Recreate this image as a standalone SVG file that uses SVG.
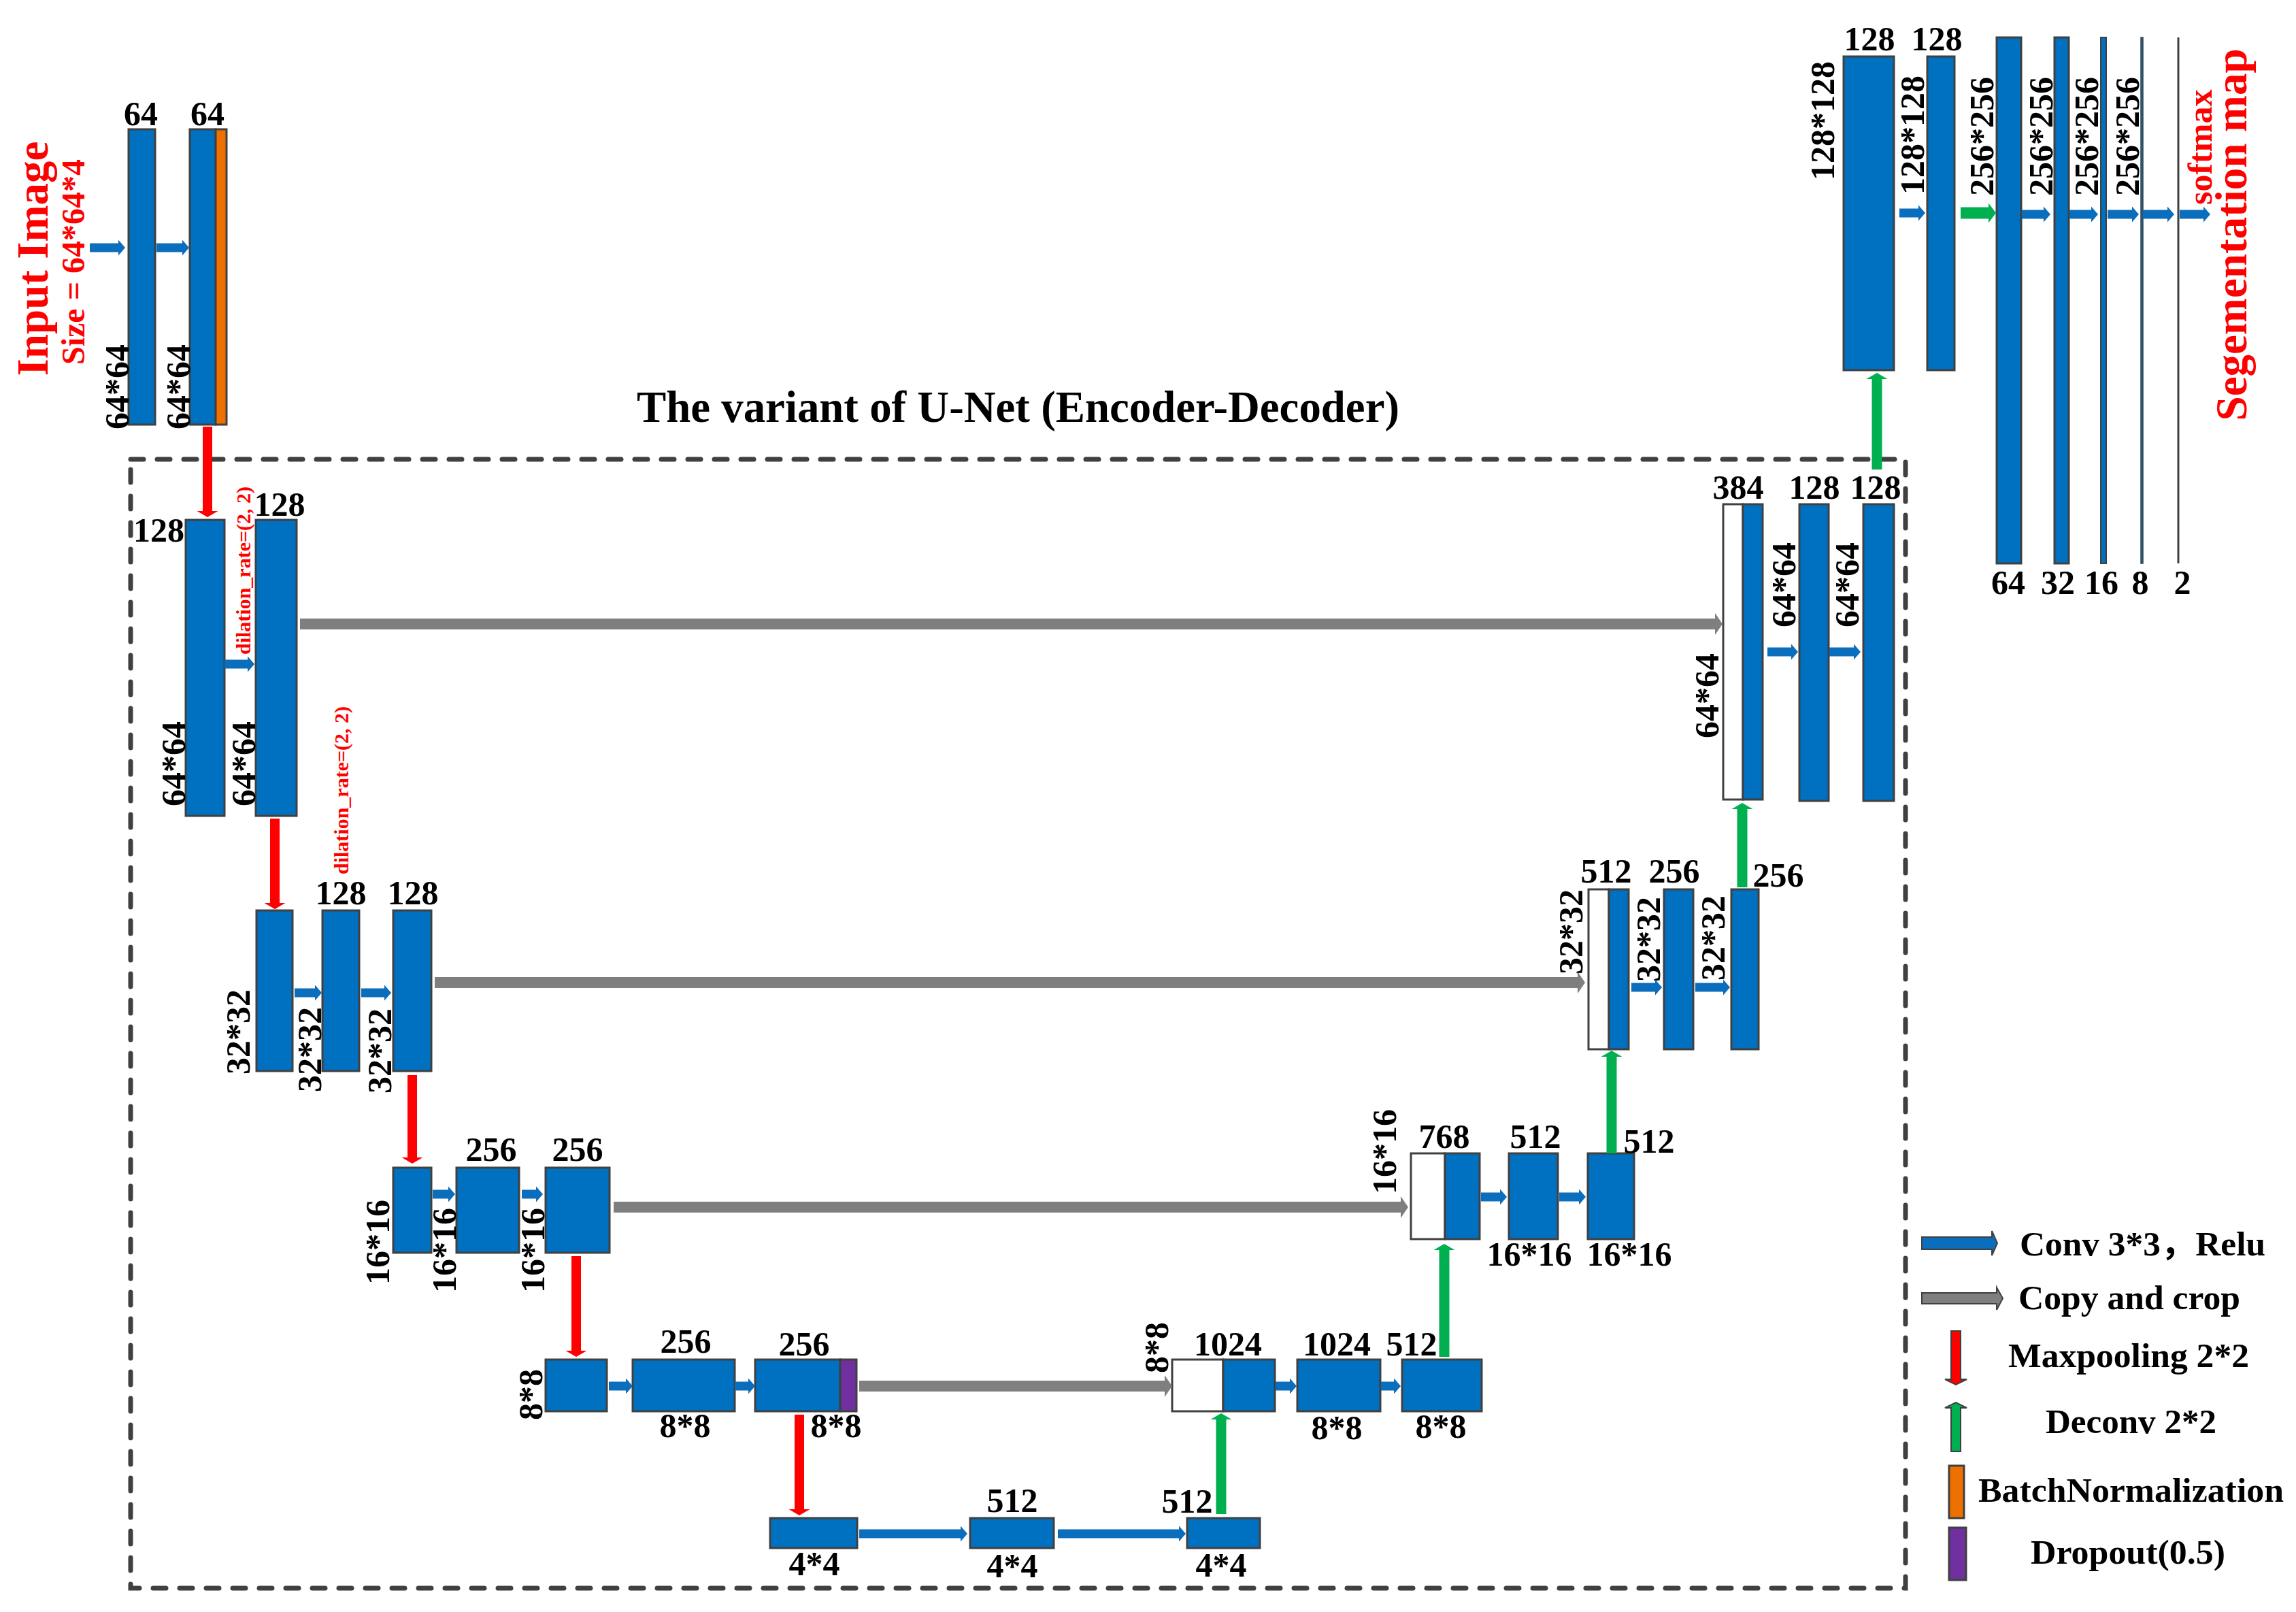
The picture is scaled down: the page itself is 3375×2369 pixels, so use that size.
<svg xmlns="http://www.w3.org/2000/svg" width="3375" height="2369" viewBox="0 0 3375 2369">
<style>
.blk{fill:#0070C0;stroke:#404040;stroke-width:3}
.wht{fill:#FFFFFF;stroke:#404040;stroke-width:3}
.bn{fill:#ED7000;stroke:#404040;stroke-width:3}
.dp{fill:#7030A0;stroke:#404040;stroke-width:3}
.ab{fill:#0A6EBD}
.ag{fill:#7F7F7F}
.ar{fill:#FF0000}
.agr{fill:#00B050}
.lbl{font-family:"Liberation Serif","Times New Roman",serif;font-weight:bold;font-size:50px;fill:#000}
.c{text-anchor:middle}
.red{fill:#FF0000}
.frame{fill:none;stroke:#404040;stroke-width:7;stroke-dasharray:19 20;stroke-linecap:round}
.leg{stroke:#404040;stroke-width:2}
</style>
<rect x="0" y="0" width="3375" height="2369" fill="#FFFFFF"/>

<g id="frame">
<rect class="frame" x="192" y="675" width="2609" height="1659"/>
<text class="lbl" x="936" y="620" style="font-size:65px" textLength="1121" lengthAdjust="spacingAndGlyphs">The variant of U-Net (Encoder-Decoder)</text>
</g>

<g id="input">
<text class="lbl c red" style="font-size:65px" transform="translate(70,380) rotate(-90)">Input Image</text>
<text class="lbl c red" style="font-size:48px" transform="translate(124,385) rotate(-90)">Size = 64*64*4</text>
</g>

<g id="A1"><rect class="blk" x="189" y="190" width="39" height="434"/>
<text class="lbl c" x="207" y="184">64</text>
<text class="lbl" transform="translate(189,631) rotate(-90)">64*64</text></g>
<g id="A2"><rect class="blk" x="279" y="190" width="38" height="434"/><rect class="bn" x="317" y="190" width="16" height="434"/>
<text class="lbl c" x="305" y="184">64</text>
<text class="lbl" transform="translate(279,631) rotate(-90)">64*64</text></g>

<g id="B1"><rect class="blk" x="273" y="764" width="57" height="435"/>
<text class="lbl" x="271" y="796" text-anchor="end">128</text>
<text class="lbl" transform="translate(272,1185) rotate(-90)">64*64</text></g>
<g id="B2"><rect class="blk" x="376" y="764" width="60" height="435"/>
<text class="lbl c" x="411" y="758">128</text>
<text class="lbl" transform="translate(375,1185) rotate(-90)">64*64</text></g>
<g id="dilation">
<text class="lbl red" style="font-size:30px" transform="translate(368,962) rotate(-90)">dilation_rate=(2, 2)</text>
<text class="lbl red" style="font-size:30px" transform="translate(512,1285) rotate(-90)">dilation_rate=(2, 2)</text>
</g>

<g id="C1"><rect class="blk" x="377" y="1338" width="53" height="236"/>
<text class="lbl" transform="translate(367,1579) rotate(-90)">32*32</text></g>
<g id="C2"><rect class="blk" x="474" y="1338" width="54" height="236"/>
<text class="lbl c" x="501" y="1329">128</text>
<text class="lbl" transform="translate(472,1605) rotate(-90)">32*32</text></g>
<g id="C3"><rect class="blk" x="578" y="1338" width="56" height="236"/>
<text class="lbl c" x="607" y="1329">128</text>
<text class="lbl" transform="translate(575,1607) rotate(-90)">32*32</text></g>

<g id="D1"><rect class="blk" x="578" y="1716" width="56" height="125"/>
<text class="lbl" transform="translate(572,1888) rotate(-90)">16*16</text></g>
<g id="D2"><rect class="blk" x="671" y="1716" width="92" height="125"/>
<text class="lbl c" x="722" y="1706">256</text>
<text class="lbl" transform="translate(670,1900) rotate(-90)">16*16</text></g>
<g id="D3"><rect class="blk" x="802" y="1716" width="94" height="125"/>
<text class="lbl c" x="849" y="1706">256</text>
<text class="lbl" transform="translate(800,1900) rotate(-90)">16*16</text></g>

<g id="E1"><rect class="blk" x="802" y="1998" width="90" height="76"/>
<text class="lbl" transform="translate(797,2087) rotate(-90)">8*8</text></g>
<g id="E2"><rect class="blk" x="930" y="1998" width="150" height="76"/>
<text class="lbl c" x="1008" y="1988">256</text>
<text class="lbl c" x="1007" y="2112">8*8</text></g>
<g id="E3"><rect class="blk" x="1110" y="1998" width="125" height="76"/><rect class="dp" x="1235" y="1998" width="24" height="76"/>
<text class="lbl c" x="1182" y="1992">256</text>
<text class="lbl c" x="1229" y="2112">8*8</text></g>

<g id="F1"><rect class="blk" x="1132" y="2231" width="128" height="44"/>
<text class="lbl c" x="1197" y="2315">4*4</text></g>
<g id="F2"><rect class="blk" x="1426" y="2231" width="123" height="44"/>
<text class="lbl c" x="1488" y="2222">512</text>
<text class="lbl c" x="1488" y="2318">4*4</text></g>
<g id="F3"><rect class="blk" x="1745" y="2231" width="107" height="44"/>
<text class="lbl c" x="1745" y="2223">512</text>
<text class="lbl c" x="1795" y="2317">4*4</text></g>

<g id="G1"><rect class="wht" x="1723" y="1998" width="75" height="76"/><rect class="blk" x="1798" y="1998" width="76" height="76"/>
<text class="lbl c" x="1805" y="1992">1024</text>
<text class="lbl" transform="translate(1717,2018) rotate(-90)">8*8</text></g>
<g id="G2"><rect class="blk" x="1907" y="1998" width="122" height="76"/>
<text class="lbl c" x="1965" y="1992">1024</text>
<text class="lbl c" x="1965" y="2115">8*8</text></g>
<g id="G3"><rect class="blk" x="2061" y="1998" width="117" height="76"/>
<text class="lbl c" x="2075" y="1992">512</text>
<text class="lbl c" x="2118" y="2113">8*8</text></g>

<g id="H1"><rect class="wht" x="2074" y="1695" width="50" height="126"/><rect class="blk" x="2124" y="1695" width="51" height="126"/>
<text class="lbl c" x="2123" y="1687">768</text>
<text class="lbl" transform="translate(2052,1755) rotate(-90)">16*16</text></g>
<g id="H2"><rect class="blk" x="2218" y="1695" width="72" height="126"/>
<text class="lbl c" x="2257" y="1687">512</text>
<text class="lbl c" x="2248" y="1860">16*16</text></g>
<g id="H3"><rect class="blk" x="2334" y="1695" width="68" height="126"/>
<text class="lbl c" x="2424" y="1694">512</text>
<text class="lbl c" x="2395" y="1860">16*16</text></g>

<g id="I1"><rect class="wht" x="2335" y="1307" width="30" height="235"/><rect class="blk" x="2365" y="1307" width="29" height="235"/>
<text class="lbl c" x="2361" y="1297">512</text>
<text class="lbl" transform="translate(2326,1432) rotate(-90)">32*32</text></g>
<g id="I2"><rect class="blk" x="2446" y="1307" width="43" height="235"/>
<text class="lbl c" x="2461" y="1297">256</text>
<text class="lbl" transform="translate(2440,1443) rotate(-90)">32*32</text></g>
<g id="I3"><rect class="blk" x="2545" y="1307" width="40" height="235"/>
<text class="lbl c" x="2614" y="1303">256</text>
<text class="lbl" transform="translate(2535,1441) rotate(-90)">32*32</text></g>

<g id="J1"><rect class="wht" x="2533" y="741" width="29" height="434"/><rect class="blk" x="2562" y="741" width="29" height="434"/>
<text class="lbl c" x="2555" y="733">384</text>
<text class="lbl" transform="translate(2526,1085) rotate(-90)">64*64</text></g>
<g id="J2"><rect class="blk" x="2645" y="741" width="43" height="436"/>
<text class="lbl c" x="2667" y="733">128</text>
<text class="lbl" transform="translate(2639,922) rotate(-90)">64*64</text></g>
<g id="J3"><rect class="blk" x="2739" y="741" width="45" height="436"/>
<text class="lbl c" x="2757" y="733">128</text>
<text class="lbl" transform="translate(2732,922) rotate(-90)">64*64</text></g>

<g id="K1"><rect class="blk" x="2710" y="83" width="74" height="461"/>
<text class="lbl c" x="2748" y="74">128</text>
<text class="lbl" transform="translate(2696,265) rotate(-90)">128*128</text></g>
<g id="K2"><rect class="blk" x="2833" y="83" width="40" height="461"/>
<text class="lbl c" x="2847" y="74">128</text>
<text class="lbl" transform="translate(2828,286) rotate(-90)">128*128</text></g>

<g id="L1"><rect class="blk" x="2935" y="55" width="36" height="773"/>
<text class="lbl" transform="translate(2930,288) rotate(-90)">256*256</text>
<text class="lbl c" x="2952" y="873">64</text></g>
<g id="L2"><rect class="blk" x="3020" y="55" width="21" height="773"/>
<text class="lbl" transform="translate(3017,288) rotate(-90)">256*256</text>
<text class="lbl c" x="3025" y="873">32</text></g>
<g id="L3"><rect class="blk" x="3088" y="55" width="8" height="773" style="stroke-width:2"/>
<text class="lbl" transform="translate(3084,288) rotate(-90)">256*256</text>
<text class="lbl c" x="3089" y="873">16</text></g>
<g id="L4"><rect class="blk" x="3147" y="55" width="3" height="773" style="stroke-width:1.5"/>
<text class="lbl" transform="translate(3144,288) rotate(-90)">256*256</text>
<text class="lbl c" x="3146" y="873">8</text></g>
<g id="L5"><line x1="3202" y1="55" x2="3202" y2="828" stroke="#404040" stroke-width="3"/>
<text class="lbl c" x="3208" y="873">2</text></g>
<g id="output">
<text class="lbl red" style="font-size:50px" transform="translate(3251,301) rotate(-90)">softmax</text>
<text class="lbl c red" style="font-size:65px" transform="translate(3302,345) rotate(-90)">Segementation map</text>
</g>

<g id="connectors">
<polygon class="ab" points="132,357.5 174,357.5 174,352.5 184,364 174,375.5 174,370.5 132,370.5"/>
<polygon class="ab" points="230,357.5 268,357.5 268,352.5 278,364 268,375.5 268,370.5 230,370.5"/>
<polygon class="ab" points="330,969.5 364,969.5 364,964.5 374,976 364,987.5 364,982.5 330,982.5"/>
<polygon class="ab" points="433,1452.5 463,1452.5 463,1447.5 473,1459 463,1470.5 463,1465.5 433,1465.5"/>
<polygon class="ab" points="531,1452.5 565,1452.5 565,1447.5 575,1459 565,1470.5 565,1465.5 531,1465.5"/>
<polygon class="ab" points="636,1748.5 659,1748.5 659,1743.5 669,1755 659,1766.5 659,1761.5 636,1761.5"/>
<polygon class="ab" points="767,1748.5 788,1748.5 788,1743.5 798,1755 788,1766.5 788,1761.5 767,1761.5"/>
<polygon class="ab" points="895,2030.5 920,2030.5 920,2025.5 930,2037 920,2048.5 920,2043.5 895,2043.5"/>
<polygon class="ab" points="1080,2030.5 1100,2030.5 1100,2025.5 1110,2037 1100,2048.5 1100,2043.5 1080,2043.5"/>
<polygon class="ab" points="1263,2247.5 1412,2247.5 1412,2242.5 1422,2254 1412,2265.5 1412,2260.5 1263,2260.5"/>
<polygon class="ab" points="1555,2247.5 1733,2247.5 1733,2242.5 1743,2254 1733,2265.5 1733,2260.5 1555,2260.5"/>
<polygon class="ab" points="1875,2030.5 1896,2030.5 1896,2025.5 1906,2037 1896,2048.5 1896,2043.5 1875,2043.5"/>
<polygon class="ab" points="2030,2030.5 2049,2030.5 2049,2025.5 2059,2037 2049,2048.5 2049,2043.5 2030,2043.5"/>
<polygon class="ab" points="2177,1752.5 2205,1752.5 2205,1747.5 2215,1759 2205,1770.5 2205,1765.5 2177,1765.5"/>
<polygon class="ab" points="2292,1752.5 2321,1752.5 2321,1747.5 2331,1759 2321,1770.5 2321,1765.5 2292,1765.5"/>
<polygon class="ab" points="2398,1444.5 2433,1444.5 2433,1439.5 2443,1451 2433,1462.5 2433,1457.5 2398,1457.5"/>
<polygon class="ab" points="2492,1444.5 2533,1444.5 2533,1439.5 2543,1451 2533,1462.5 2533,1457.5 2492,1457.5"/>
<polygon class="ab" points="2598,951.5 2633,951.5 2633,946.5 2643,958 2633,969.5 2633,964.5 2598,964.5"/>
<polygon class="ab" points="2689,951.5 2725,951.5 2725,946.5 2735,958 2725,969.5 2725,964.5 2689,964.5"/>
<polygon class="ab" points="2792,306.5 2820,306.5 2820,301.5 2830,313 2820,324.5 2820,319.5 2792,319.5"/>
<polygon class="ab" points="2972,308.5 3004,308.5 3004,303.5 3014,315 3004,326.5 3004,321.5 2972,321.5"/>
<polygon class="ab" points="3042,308.5 3074,308.5 3074,303.5 3084,315 3074,326.5 3074,321.5 3042,321.5"/>
<polygon class="ab" points="3098,308.5 3134,308.5 3134,303.5 3144,315 3134,326.5 3134,321.5 3098,321.5"/>
<polygon class="ab" points="3150,308.5 3186,308.5 3186,303.5 3196,315 3186,326.5 3186,321.5 3150,321.5"/>
<polygon class="ab" points="3204,308.5 3239,308.5 3239,303.5 3249,315 3239,326.5 3239,321.5 3204,321.5"/>
<polygon class="ag" points="441,909 2521,909 2521,901 2532,917 2521,933 2521,925 441,925"/>
<polygon class="ag" points="639,1436 2319,1436 2319,1428 2330,1444 2319,1460 2319,1452 639,1452"/>
<polygon class="ag" points="902,1766 2059,1766 2059,1758 2070,1774 2059,1790 2059,1782 902,1782"/>
<polygon class="ag" points="1263,2029 1712,2029 1712,2021 1723,2037 1712,2053 1712,2045 1263,2045"/>
<polygon class="ar" points="298,627 312,627 312,751 320.5,751 305,760 289.5,751 298,751"/>
<polygon class="ar" points="397,1203 411,1203 411,1327 419.5,1327 404,1336 388.5,1327 397,1327"/>
<polygon class="ar" points="599,1580 613,1580 613,1701 621.5,1701 606,1710 590.5,1701 599,1701"/>
<polygon class="ar" points="840,1846 854,1846 854,1985 862.5,1985 847,1994 831.5,1985 840,1985"/>
<polygon class="ar" points="1168,2079 1182,2079 1182,2218 1190.5,2218 1175,2227 1159.5,2218 1168,2218"/>
<polygon class="agr" points="1787.5,2225 1802.5,2225 1802.5,2086 1810.5,2086 1795,2077 1779.5,2086 1787.5,2086"/>
<polygon class="agr" points="2115.5,1994 2130.5,1994 2130.5,1837 2138.5,1837 2123,1828 2107.5,1837 2115.5,1837"/>
<polygon class="agr" points="2361.5,1695 2376.5,1695 2376.5,1553 2384.5,1553 2369,1544 2353.5,1553 2361.5,1553"/>
<polygon class="agr" points="2553.5,1304 2568.5,1304 2568.5,1189 2576.5,1189 2561,1180 2545.5,1189 2553.5,1189"/>
<polygon class="agr" points="2751.5,690 2766.5,690 2766.5,557 2774.5,557 2759,548 2743.5,557 2751.5,557"/>
<polygon class="agr" points="2882,304.5 2923,304.5 2923,298.5 2934,313 2923,327.5 2923,321.5 2882,321.5"/>
</g>

<g id="legend">
<polygon class="ab leg" points="2825,1818 2928,1818 2928,1809 2936,1827 2928,1845 2928,1836 2825,1836"/>
<text class="lbl" x="2969" y="1845" textLength="361" lengthAdjust="spacingAndGlyphs" style="font-family:'Liberation Serif','Noto Sans CJK SC',serif">Conv 3*3，Relu</text>
<polygon class="ag leg" points="2825,1900 2935,1900 2935,1892 2944,1908 2935,1925 2935,1916 2825,1916"/>
<text class="lbl" x="2967" y="1924" textLength="326" lengthAdjust="spacingAndGlyphs">Copy and crop</text>
<polygon class="ar leg" points="2868,1956 2882,1956 2882,2027 2891,2027 2875,2035 2859,2027 2868,2027"/>
<text class="lbl" x="2952" y="2009" textLength="354" lengthAdjust="spacingAndGlyphs">Maxpooling 2*2</text>
<polygon class="agr leg" points="2868,2133 2882,2133 2882,2069 2891,2069 2875,2061 2859,2069 2868,2069"/>
<text class="lbl" x="3007" y="2106" textLength="251" lengthAdjust="spacingAndGlyphs">Deconv 2*2</text>
<rect class="bn" x="2865" y="2154" width="22" height="77"/>
<text class="lbl" x="2908" y="2207" textLength="449" lengthAdjust="spacingAndGlyphs">BatchNormalization</text>
<rect class="dp" x="2865" y="2245" width="25" height="77"/>
<text class="lbl" x="2985" y="2298" textLength="286" lengthAdjust="spacingAndGlyphs">Dropout(0.5)</text>
</g>
</svg>
